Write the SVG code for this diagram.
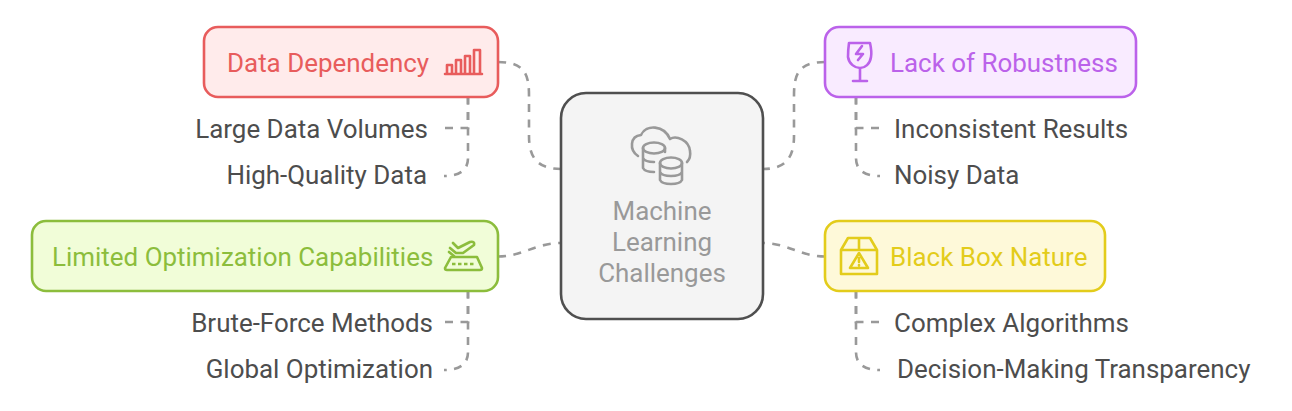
<svg xmlns="http://www.w3.org/2000/svg" width="1292" height="411" viewBox="0 0 1292 411">
<style>
text{font-family:Roboto,"Liberation Sans",sans-serif;font-size:25.950px}
.sub{fill:#4d4d4d}
.e{text-anchor:end}
.c{fill:none;stroke:#999;stroke-width:2.6;stroke-dasharray:8 7.500}
.n{stroke-width:2.6}
.i{fill:none;stroke-width:2.6;stroke-linecap:round;stroke-linejoin:round}
</style>
<rect width="1292" height="411" fill="#fff"/>
<g id="connectors">
<path class="c" d="M498 62C526 62 529 76 529 96V136C529 157 537 169 561 169"/>
<path class="c" d="M825 62C797 62 794 76 794 96V136C794 157 786 169 763 169"/>
<path class="c" d="M498 256.500C522 256.500 536 243 561 243"/>
<path class="c" d="M825 256.500C801 256.500 787 243 763 243"/>
<path class="c" d="M468 96.500V158Q468 176 444 176"/>
<path class="c" d="M468 96.500V128H442"/>
<path class="c" d="M856 96.500V158Q856 176 880 176"/>
<path class="c" d="M856 96.500V128H882"/>
<path class="c" d="M468 290.500V352Q468 370 444 370"/>
<path class="c" d="M468 290.500V322H442"/>
<path class="c" d="M856 290.500V352Q856 370 880 370"/>
<path class="c" d="M856 290.500V322H882"/>
</g>
<g id="center">
<rect class="n" x="561" y="93" width="202" height="226" rx="25" fill="#f4f4f4" stroke="#4f4f4f"/>
<g class="i" stroke="#999">
<path d="M638 156C629 150 630 136 641 135C646 124 664 125 670 139C676 135 689 140 690 151C691 157 689 160 687 162"/>
<ellipse cx="654" cy="148" rx="11" ry="5.500"/>
<path d="M643 148V168Q645 172 654 172M643 158Q645 162 654 162M665 148V152"/>
<ellipse cx="671" cy="163" rx="11" ry="5.500"/>
<path d="M660 163V180Q662 184 671 184Q680 184 682 180V163M660 172Q662 176 671 176Q680 176 682 172"/>
</g>
<g fill="#999" text-anchor="middle">
<text x="662" y="219.500">Machine</text>
<text x="662" y="250.500">Learning</text>
<text x="662" y="281.500">Challenges</text>
</g>
</g>
<g id="data-dependency">
<rect class="n" x="204" y="27" width="294" height="70" rx="14" fill="#ffebeb" stroke="#e85c5c"/>
<text x="227" y="71.700" fill="#e85c5c">Data Dependency</text>
<g class="i" stroke="#e85c5c">
<path d="M445 74H482M447 74V65H452V74M456 74V60H461V74M465 74V56H470V74M474 74V50H480V74"/>
</g>
</g>
<g id="large-data"><text class="sub e" x="428" y="137.500">Large Data Volumes</text></g>
<g id="high-quality"><text class="sub e" x="427" y="183.500">High-Quality Data</text></g>
<g id="lack-of-robustness">
<rect class="n" x="825" y="27" width="311" height="70" rx="14" fill="#f9ebff" stroke="#bb62ea"/>
<text x="890" y="71.700" fill="#bb62ea">Lack of Robustness</text>
<g class="i" stroke="#bb62ea">
<path d="M849 43H870Q872 52 871 57C870 64 865 68 860 68C855 68 849 64 848 57Q848 50 849 43ZM860 68V81M853 81H867M862 46L856 54H863L858 60"/>
</g>
</g>
<g id="inconsistent"><text class="sub" x="894" y="137.500">Inconsistent Results</text></g>
<g id="noisy"><text class="sub" x="894" y="183.500">Noisy Data</text></g>
<g id="limited-optimization">
<rect class="n" x="32" y="221" width="466" height="70" rx="14" fill="#f1fdd8" stroke="#8cbd3c"/>
<text x="52" y="265.700" fill="#8cbd3c">Limited Optimization Capabilities</text>
<g class="i" stroke="#8cbd3c">
<path d="M451 257H477L482 268Q482 270 480 270H447Q445 270 445 268Z"/>
<path d="M452 264H475" stroke-dasharray="3.500 2.500" stroke-linecap="butt"/>
<path d="M453 243L458 248L470 242Q475 241 474 245L463 253H456L450 248M449 252L454 256"/>
</g>
</g>
<g id="brute"><text class="sub e" x="433" y="331.500">Brute-Force Methods</text></g>
<g id="global"><text class="sub e" x="433" y="377.500">Global Optimization</text></g>
<g id="black-box">
<rect class="n" x="825" y="221" width="280" height="70" rx="14" fill="#fef9d9" stroke="#e3cc1b"/>
<text x="890" y="265.700" fill="#e3cc1b">Black Box Nature</text>
<g class="i" stroke="#e3cc1b">
<path d="M841 250V274H877V250M841 250L848 238H870L877 250ZM859 238V250M859 253L850 268H868ZM859 258V262M859 265V265.500"/>
</g>
</g>
<g id="complex"><text class="sub" x="894" y="331.500">Complex Algorithms</text></g>
<g id="decision"><text class="sub" x="897" y="377.500">Decision-Making Transparency</text></g>
</svg>
